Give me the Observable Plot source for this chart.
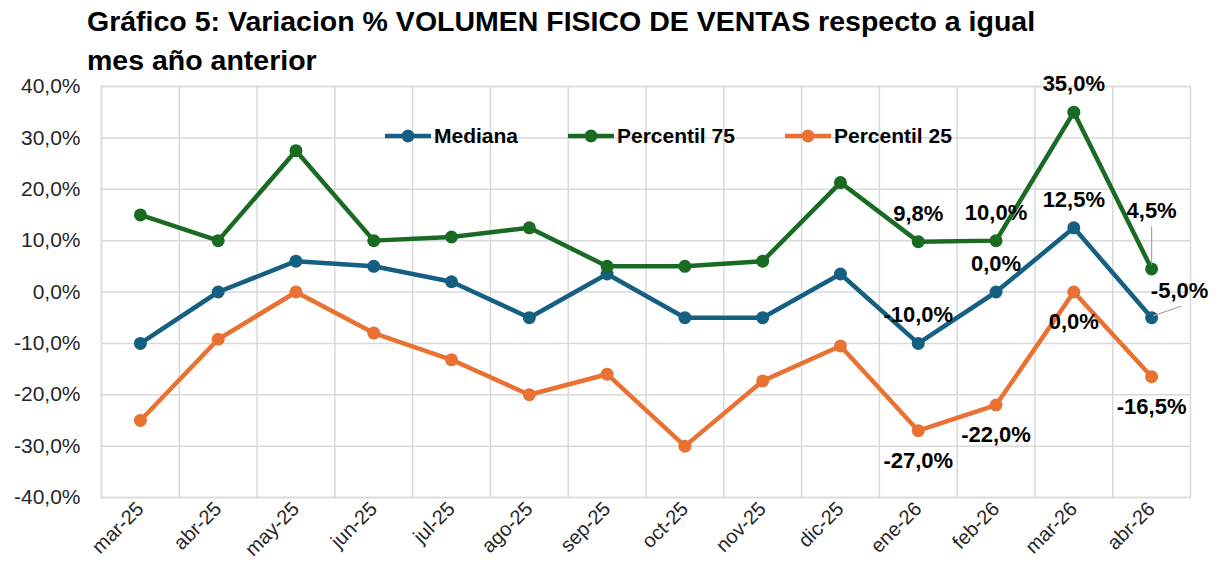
<!DOCTYPE html>
<html><head><meta charset="utf-8">
<script src="https://cdn.jsdelivr.net/npm/d3@7"></script>
<script src="https://cdn.jsdelivr.net/npm/@observablehq/plot@0.6"></script>
<style>
body{margin:0;background:#fff;font-family:"Liberation Sans",Arial,sans-serif;}
#wrap{position:relative;width:1224px;height:574px;overflow:hidden;background:#fff}
#title{height:68px;padding-left:87px;padding-top:2px;font-weight:bold;font-size:28.5px;line-height:39px;color:#000;box-sizing:border-box;white-space:nowrap;position:relative;z-index:2}
.leg{position:absolute;top:125px;height:22px;display:flex;align-items:center;font-weight:bold;font-size:21px;color:#000}
.leg svg{margin-right:3px}
#chart svg{display:block;overflow:visible}
</style>
</head><body>
<div id="wrap">
<div id="title">Gráfico 5: Variacion % VOLUMEN FISICO DE VENTAS respecto a igual<br>mes año anterior</div>
<div id="chart"></div>
<div id="legend"></div>
</div>
<script>
const meses = ["mar-25","abr-25","may-25","jun-25","jul-25","ago-25","sep-25","oct-25","nov-25","dic-25","ene-26","feb-26","mar-26","abr-26"];
const mediana = [-10, 0, 6, 5, 2, -5, 3.5, -5, -5, 3.5, -10, 0, 12.5, -5];
const percentil75 = [15, 10, 27.5, 10, 10.7, 12.5, 5, 5, 6, 21.3, 9.8, 10, 35, 4.5];
const percentil25 = [-25, -9.2, 0, -8, -13.2, -20, -16, -30, -17.3, -10.5, -27, -22, 0, -16.5];
const yTicks = [-40, -30, -20, -10, 0, 10, 20, 30, 40];
const etiquetados = ["ene-26","feb-26","mar-26","abr-26"];

const series = [
  {name: "Mediana", values: mediana, color: "#156082"},
  {name: "Percentil 75", values: percentil75, color: "#196B24"},
  {name: "Percentil 25", values: percentil25, color: "#E97132"}
];
const legendLeft = {"Mediana": 385, "Percentil 75": 568, "Percentil 25": 785};

const fmt = v => d3.format(".1f")(v).replace(".", ",").replace("\u2212", "-") + "%";
const rowsOf = s => meses.map((m, i) => ({mes: m, valor: s.values[i]}));

const W = 1224, ML = 101, MR = 34;
const step = (W - ML - MR) / meses.length;

const med = rowsOf(series[0]), p75 = rowsOf(series[1]), p25 = rowsOf(series[2]);
const lab = rows => rows.filter(d => etiquetados.includes(d.mes));
const last = "abr-26";
const labelStyle = {text: d => fmt(d.valor), fontWeight: "bold", fontSize: 22, fill: "#000"};

const leader = {draw(context, l) { context.moveTo(0, 0); context.lineTo(0, -l); }};

const marks = [
  Plot.gridY(yTicks, {stroke: "#d9d9d9", strokeOpacity: 1, strokeWidth: 1.5}),
  Plot.ruleX(meses, {dx: -step / 2, stroke: "#d9d9d9", strokeWidth: 1.5}),
  Plot.frame({stroke: "#d9d9d9", strokeWidth: 1.5}),
];
for (const [s, rows] of [[series[2], p25], [series[0], med], [series[1], p75]]) {
  marks.push(Plot.line(rows, {x: "mes", y: "valor", stroke: s.color, strokeWidth: 4.5}));
  marks.push(Plot.dot(rows, {x: "mes", y: "valor", fill: s.color, r: 6.5}));
}
marks.push(
  Plot.text(lab(p75).filter(d => d.mes !== last), {x: "mes", y: "valor", dy: -28, ...labelStyle}),
  Plot.text(lab(p75).filter(d => d.mes === last), {x: "mes", y: "valor", dy: -58, ...labelStyle}),
  Plot.vector(lab(p75).filter(d => d.mes === last), {x: "mes", y: "valor", dy: -5, length: 37, rotate: 0, anchor: "start", shape: leader, stroke: "#a6a6a6", strokeWidth: 1.2}),
  Plot.text(lab(med).filter(d => d.mes !== last), {x: "mes", y: "valor", dy: -28, ...labelStyle}),
  Plot.text(lab(med).filter(d => d.mes === last), {x: "mes", y: "valor", dx: 28, dy: -27, ...labelStyle}),
  Plot.vector(lab(med).filter(d => d.mes === last), {x: "mes", y: "valor", dx: 2, dy: -2, length: 29, rotate: 71, anchor: "start", shape: leader, stroke: "#a6a6a6", strokeWidth: 1.2}),
  Plot.text(lab(p25), {x: "mes", y: "valor", dy: 30, ...labelStyle})
);

const chart = Plot.plot({
  width: W, height: 506,
  marginTop: 18, marginBottom: 77, marginLeft: ML, marginRight: MR,
  style: {fontFamily: '"Liberation Sans", Arial, sans-serif', fontSize: "20px", color: "#262626", background: "transparent", overflow: "visible"},
  x: {type: "point", domain: meses, padding: 0.5, round: false, label: null, tickSize: 0, tickRotate: -45, tickPadding: 8},
  y: {domain: [-40, 40], ticks: yTicks, tickFormat: fmt, label: null, tickSize: 0, tickPadding: 21},
  marks: [
    Plot.axisY({ticks: yTicks, tickFormat: fmt, tickSize: 0, tickPadding: 21, fontSize: 21, label: null}),
    Plot.axisX({tickSize: 0, tickRotate: -45, tickPadding: 8, fontSize: 20, label: null}),
    ...marks
  ]
});
document.getElementById("chart").appendChild(chart);

const legend = document.getElementById("legend");
for (const s of series) {
  const div = document.createElement("div");
  div.className = "leg";
  div.style.left = legendLeft[s.name] + "px";
  div.innerHTML = `<svg width="46" height="14"><line x1="1" y1="7" x2="45" y2="7" stroke="${s.color}" stroke-width="4.5" stroke-linecap="round"/><circle cx="23" cy="7" r="6.5" fill="${s.color}"/></svg><span>${s.name}</span>`;
  legend.appendChild(div);
}
</script>
</body></html>
